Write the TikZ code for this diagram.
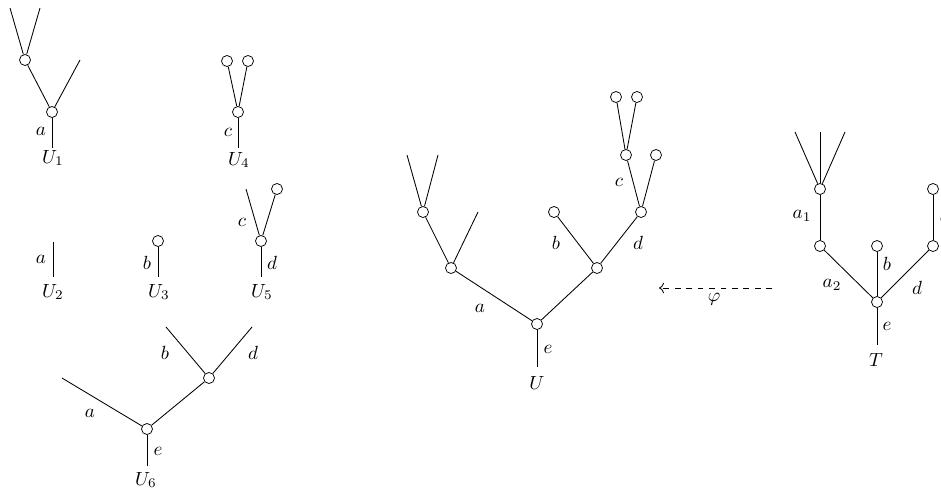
\documentclass[tikz,border=0pt]{standalone}
\usetikzlibrary{arrows.meta}
\begin{document}
\begin{tikzpicture}[x=0.525pt,y=-0.525pt,
  vtx/.style={circle,draw,fill=white,inner sep=0pt,minimum size=5.8pt},
  lbl/.style={inner sep=0pt},
  edg/.style={draw,line width=0.45pt}]
\useasboundingbox (0,0) rectangle (941,488);
% ---------- U1
\coordinate (u1l1) at (10,8);
\coordinate (u1l2) at (40,8);
\node[vtx] (u1c) at (25,60) {};
\coordinate (u1r) at (80,60);
\node[vtx] (u1) at (52,112) {};
\coordinate (u1b) at (52,148);
\path[edg] (u1l1) -- (u1c);
\path[edg] (u1l2) -- (u1c);
\path[edg] (u1c) -- (u1);
\path[edg] (u1r) -- (u1);
\path[edg] (u1) -- (u1b);
\node[lbl] (u1a) at (41,131) {$a$};
\node[lbl] (U1) at (53,158) {$U_1$};
% ---------- U4
\node[vtx] (u4l) at (227,61) {};
\node[vtx] (u4r) at (248,61) {};
\node[vtx] (u4) at (238,112) {};
\coordinate (u4b) at (238,148);
\path[edg] (u4l) -- (u4);
\path[edg] (u4r) -- (u4);
\path[edg] (u4) -- (u4b);
\node[lbl] (u4c) at (228,132) {$c$};
\node[lbl] (U4) at (239,160) {$U_4$};
% ---------- U2
\coordinate (u2t) at (53,242);
\coordinate (u2b) at (53,277);
\path[edg] (u2t) -- (u2b);
\node[lbl] (u2a) at (41,259) {$a$};
\node[lbl] (U2) at (53,292) {$U_2$};
% ---------- U3
\node[vtx] (u3) at (158,241) {};
\coordinate (u3b) at (158,277);
\path[edg] (u3) -- (u3b);
\node[lbl] (u3b1) at (147,263) {$b$};
\node[lbl] (U3) at (159,292) {$U_3$};
% ---------- U5
\coordinate (u5f) at (246,189);
\node[vtx] (u5r) at (277,189) {};
\node[vtx] (u5) at (261,241) {};
\coordinate (u5b) at (261,277);
\path[edg] (u5f) -- (u5);
\path[edg] (u5r) -- (u5);
\path[edg] (u5) -- (u5b);
\node[lbl] (u5c) at (242,222) {$c$};
\node[lbl] (u5d) at (272,263) {$d$};
\node[lbl] (U5) at (262,292) {$U_5$};
% ---------- U6
\node[vtx] (u6) at (147,429) {};
\node[vtx] (u6d) at (209,378) {};
\coordinate (u6a) at (62,378);
\coordinate (u6bf) at (166,327);
\coordinate (u6df) at (252,327);
\coordinate (u6bt) at (147,466);
\path[edg] (u6a) -- (u6);
\path[edg] (u6d) -- (u6);
\path[edg] (u6bf) -- (u6d);
\path[edg] (u6df) -- (u6d);
\path[edg] (u6) -- (u6bt);
\node[lbl] (u6la) at (90,413) {$a$};
\node[lbl] (u6lb) at (165,353) {$b$};
\node[lbl] (u6ld) at (253,353) {$d$};
\node[lbl] (u6le) at (158,451) {$e$};
\node[lbl] (U6) at (146,480) {$U_6$};
% ---------- U
\node[vtx] (ur) at (537,324) {};
\node[vtx] (ua) at (451,268) {};
\node[vtx] (ua1) at (423,212) {};
\coordinate (ua1l) at (407,155);
\coordinate (ua1r) at (438,155);
\coordinate (uaf) at (478,212);
\node[vtx] (ud) at (597,268) {};
\node[vtx] (ub) at (554,212) {};
\node[vtx] (udv) at (641,212) {};
\node[vtx] (uc) at (626,155) {};
\node[vtx] (udr) at (656,155) {};
\node[vtx] (ucl) at (616,97) {};
\node[vtx] (ucr) at (637,97) {};
\coordinate (urb) at (537,367);
\path[edg] (ua) -- (ur);
\path[edg] (ud) -- (ur);
\path[edg] (ur) -- (urb);
\path[edg] (ua1) -- (ua);
\path[edg] (uaf) -- (ua);
\path[edg] (ua1l) -- (ua1);
\path[edg] (ua1r) -- (ua1);
\path[edg] (ub) -- (ud);
\path[edg] (udv) -- (ud);
\path[edg] (uc) -- (udv);
\path[edg] (udr) -- (udv);
\path[edg] (ucl) -- (uc);
\path[edg] (ucr) -- (uc);
\node[lbl] (ula) at (480,308) {$a$};
\node[lbl] (ulb) at (556,243) {$b$};
\node[lbl] (uld) at (638,243) {$d$};
\node[lbl] (ulc) at (619,182) {$c$};
\node[lbl] (ule) at (548,349) {$e$};
\node[lbl] (UU) at (537,383) {$U$};
% ---------- arrow phi
\coordinate (phs) at (772,288);
\coordinate (phe) at (659,288);
\draw[dashed,-{To[length=2.6pt,width=5.4pt]},line width=0.45pt] (phs) -- (phe);
\node[lbl] (phi) at (714,299) {$\varphi$};
% ---------- T
\node[vtx] (tr) at (877,302) {};
\node[vtx] (ta2) at (820,246) {};
\node[vtx] (ta1) at (820,189) {};
\node[vtx] (tb) at (877,246) {};
\node[vtx] (td) at (933,246) {};
\node[vtx] (tdc) at (933,189) {};
\coordinate (ta1l) at (795,132);
\coordinate (ta1m) at (820,132);
\coordinate (ta1r) at (845,132);
\coordinate (trb) at (877,345);
\path[edg] (ta2) -- (tr);
\path[edg] (tb) -- (tr);
\path[edg] (td) -- (tr);
\path[edg] (tr) -- (trb);
\path[edg] (ta1) -- (ta2);
\path[edg] (tdc) -- (td);
\path[edg] (ta1l) -- (ta1);
\path[edg] (ta1m) -- (ta1);
\path[edg] (ta1r) -- (ta1);
\node[lbl] (tla1) at (802,216) {$a_1$};
\node[lbl] (tla2) at (832,285) {$a_2$};
\node[lbl] (tlb) at (887,264) {$b$};
\node[lbl] (tld) at (917,288) {$d$};
\node[lbl] (tlc) at (944,218) {$c$};
\node[lbl] (tle) at (887,326) {$e$};
\node[lbl] (TT) at (876,360) {$T$};
\end{tikzpicture}
\end{document}
